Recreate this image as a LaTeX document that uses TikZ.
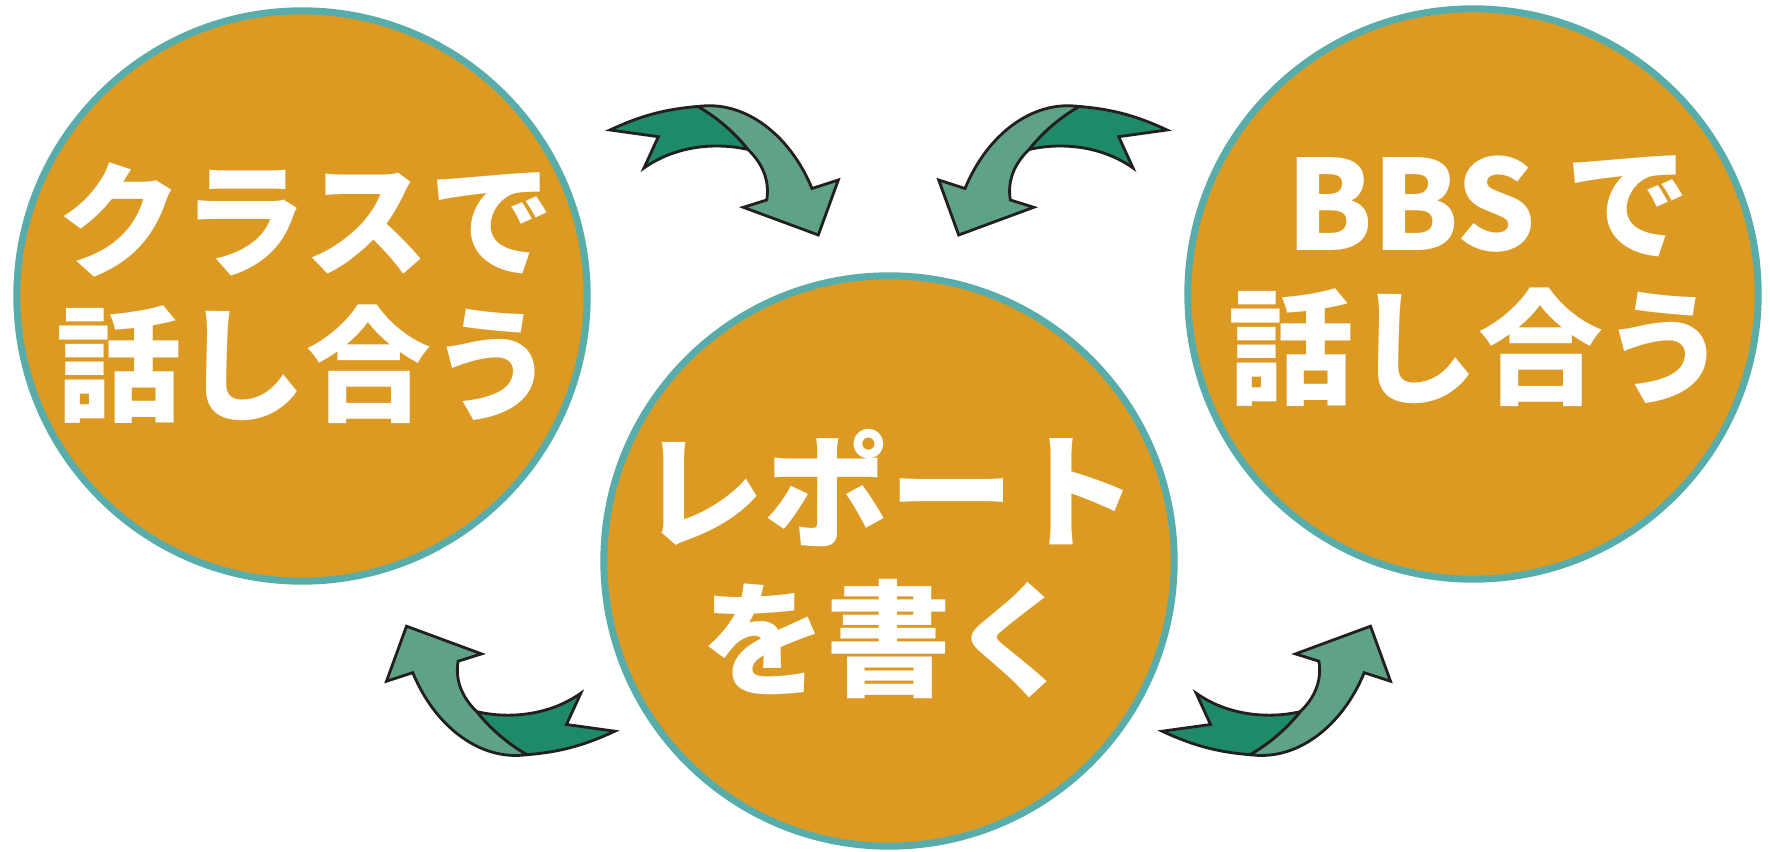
\documentclass[tikz,border=0pt]{standalone}
\usepackage{fontspec}
\newfontfamily\jfont{Noto Sans CJK JP}
\usepackage{tikz}
\definecolor{discorange}{HTML}{DD9A22}
\definecolor{discteal}{HTML}{58ADAB}
\definecolor{arrowdark}{HTML}{1F8A6A}
\definecolor{arrowlight}{HTML}{5FA386}
\definecolor{arrowline}{HTML}{231F20}

% bent arrow, drawn once and then mirrored / turned
\newcommand{\turnarrow}{%
  \filldraw[tailpart] (610,130) .. controls (640,116) and (665,109) .. (698,106.5)
    .. controls (718,118) and (735,133) .. (748,149.5)
    .. controls (715,142) and (675,146) .. (644,168)
    -- (658.3,136.7) -- cycle;
  \filldraw[headpart] (698,106.5) .. controls (745,100) and (790,135) .. (812,188.5)
    -- (838.3,180) -- (818.3,235) -- (743.3,207.3) -- (766.7,200)
    .. controls (770,180) and (762,163) .. (748,149.5)
    .. controls (735,133) and (718,118) .. (698,106.5) -- cycle;}

\begin{document}
\begin{tikzpicture}[x=0.01cm, y=-0.01cm, every text node part/.style={align=center},
  bubble/.style={circle, draw=discteal, line width=2pt, fill=discorange, minimum size=5.7cm, inner sep=0pt},
  bubbletext/.style={text=white, inner sep=0pt, font=\jfont\bfseries\fontsize{35.5}{41}\selectfont},
  tailpart/.style={fill=arrowdark, draw=arrowline, line width=0.8pt},
  headpart/.style={fill=arrowlight, draw=arrowline, line width=0.8pt}]
\useasboundingbox (0,0) rectangle (1770,852);
\draw
  node (cls) at (302,296) [bubble] {}
  node (rep) at (889,561) [bubble] {}
  node (bbs) at (1473,294) [bubble] {};
\draw
  node (clstext) at (306,293) [bubbletext] {クラスで\\話し合う}
  node (reptext) at (889,564) [bubbletext, font=\jfont\bfseries\fontsize{35.5}{42}\selectfont] {レポート\\を書く}
  node (bbstext) at (1478,281) [bubbletext] {\hspace{0.2cm}BBS で\\話し合う};
% arrows
\turnarrow
\begin{scope}[shift={(1777,0)}, xscale=-1] \turnarrow \end{scope}
\begin{scope}[shift={(1224.8,861.2)}, scale=-1] \turnarrow \end{scope}
\begin{scope}[shift={(552.2,861.2)}, yscale=-1] \turnarrow \end{scope}
\end{tikzpicture}
\end{document}
